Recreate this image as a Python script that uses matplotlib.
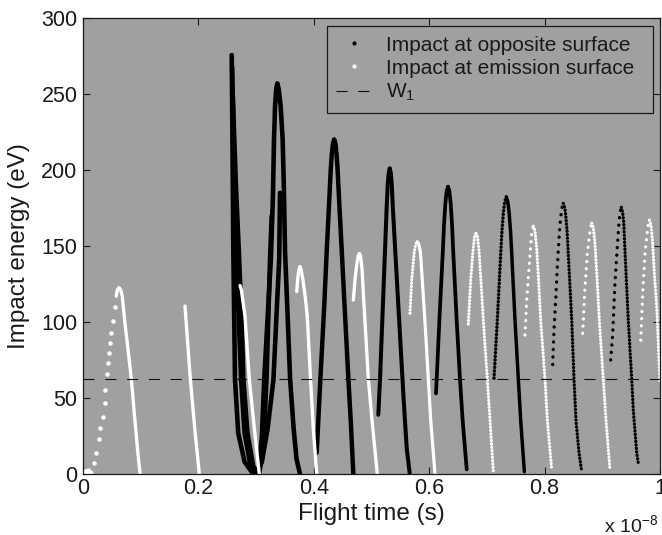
import matplotlib
matplotlib.use('Agg')
import matplotlib.pyplot as plt
from matplotlib.lines import Line2D

plt.rcParams['font.family'] = ['Liberation Sans', 'DejaVu Sans']
plt.rcParams['mathtext.fontset'] = 'custom'
plt.rcParams['mathtext.rm'] = 'Liberation Sans'
plt.rcParams['mathtext.it'] = 'Liberation Sans:italic'

# ---------------- data (x in units of 1e-8 s, y in eV) ----------------
W1_LEVEL = 62.5

# white: impacts at emission surface
w0_x = [0.004, 0.008, 0.012]
w0_y = [1.0, 2.0, 0.5]
w1_sparse_x = [0.0185, 0.0225, 0.0272, 0.0300, 0.0341, 0.0376, 0.0387, 0.0416,
               0.0433, 0.0445, 0.0473, 0.0491, 0.0515, 0.0555]
w1_sparse_y = [7.5, 13.6, 23, 30, 37.7, 46.5, 55, 66, 72.8, 79.4, 86, 92.5, 100.9, 110]
w1_x = [0.0575, 0.0595, 0.0624, 0.0650, 0.0680, 0.0722, 0.078, 0.0838, 0.090, 0.0955, 0.099]
w1_y = [117, 121, 122.5, 121.5, 117, 101, 82, 62.3, 35, 12, 0]
w2_x = [0.1768, 0.1785, 0.186, 0.1936, 0.2016]
w2_y = [110.5, 101, 62.5, 30, 0]
w3_x = [0.2721, 0.2745, 0.2808, 0.2882, 0.2969, 0.3055]
w3_y = [124, 121, 103.5, 62.5, 30, 0]
w4_x = [0.3704, 0.3725, 0.3745, 0.3761, 0.3780, 0.3810, 0.3850, 0.3887, 0.3943, 0.3991, 0.405]
w4_y = [120, 130, 135, 136.4, 134.5, 128, 117, 103.5, 62.5, 30, 0]
w5_x = [0.4685, 0.4715, 0.4745, 0.4770, 0.4789, 0.4810, 0.4835, 0.4865, 0.4945, 0.5003, 0.510]
w5_y = [114.5, 128, 138, 143.5, 145, 143.5, 135, 114.5, 62.5, 37.7, 0]
w6_x = [0.5667, 0.5697, 0.5737, 0.5765, 0.5794, 0.5822, 0.5850, 0.5887, 0.5935, 0.5984,
        0.6026, 0.610]
w6_y = [105.7, 127.6, 145, 151, 152.8, 151, 145, 123.2, 95, 62.5, 35.5, 0]
w7_x = [0.6678, 0.6719, 0.6754, 0.6785, 0.6811, 0.6838, 0.6865, 0.6900, 0.6938, 0.7007,
        0.7054, 0.7111]
w7_y = [98.7, 127.6, 145, 156, 158.3, 156, 146, 125, 101, 62.3, 35.5, 1.5]
w8_x = [0.766, 0.769, 0.7735, 0.7775, 0.7804, 0.7832, 0.786, 0.7895, 0.7932, 0.8007,
        0.8047, 0.8123]
w8_y = [91.4, 114.5, 138.6, 158, 163, 160, 150, 128, 101, 62.3, 35.5, 2.6]
w9_x = [0.866, 0.870, 0.874, 0.8788, 0.8816, 0.8844, 0.8872, 0.891, 0.8948, 0.9017,
        0.9064, 0.9133]
w9_y = [92.5, 123, 145, 160, 165, 162, 152, 128, 101, 62.3, 35.5, 2.6]
w10_x = [0.9666, 0.970, 0.974, 0.9787, 0.9815, 0.9843, 0.987, 0.9905, 0.9943, 1.0]
w10_y = [88, 119, 145, 162, 167, 164, 153, 130, 110, 60]

# black: impacts at opposite surface
c1_x = [0.2577, 0.2590, 0.2605, 0.2634, 0.269, 0.280, 0.295, 0.305, 0.310, 0.314,
        0.3255, 0.3290, 0.3310, 0.3328, 0.3348, 0.3368, 0.3392, 0.3426, 0.3460,
        0.3480, 0.3501, 0.3590, 0.3650, 0.3700, 0.376]
c1_y = [275.6, 220, 147, 62, 27, 8, 0, 3, 25, 62,
        141, 180, 220, 241.6, 253, 257, 253, 241.6, 220,
        190, 147, 62, 30, 10, 0]
c2_x = [0.2585, 0.2620, 0.2660, 0.2700, 0.2740, 0.2800, 0.2890, 0.3000, 0.3100,
        0.3200, 0.3300, 0.3360, 0.3400, 0.3414]
c2_y = [268, 200, 147, 100, 62, 27, 8, 0, 8, 30, 62, 110, 141, 185]
c3_x = [0.2590, 0.2650, 0.2700, 0.2750, 0.2780, 0.2850, 0.2950, 0.3050, 0.3120,
        0.3180, 0.3241, 0.3270]
c3_y = [255, 190, 147, 100, 62, 27, 5, 0, 15, 62, 141, 170]
b3_x = [0.405, 0.4113, 0.4180, 0.4224, 0.4274, 0.4293, 0.4311, 0.4330, 0.4353,
        0.4376, 0.4395, 0.4413, 0.4432, 0.4484, 0.4545, 0.4600, 0.4640, 0.4685]
b3_y = [14, 62, 110, 147, 185, 200, 210, 217, 220, 217, 210, 200, 185, 147, 102, 62, 35, 0]
b4_x = [0.5118, 0.5147, 0.5234, 0.5262, 0.5282, 0.5298, 0.5316, 0.5334, 0.5350,
        0.5370, 0.5425, 0.5500, 0.5560, 0.5610, 0.5663]
b4_y = [39, 62, 147, 175, 191, 198, 201, 198, 191, 175, 137.5, 87, 47, 17, 0]
b5_x = [0.6118, 0.6176, 0.6234, 0.6258, 0.6280, 0.6302, 0.6326, 0.6350, 0.6372,
        0.6394, 0.6418, 0.6476, 0.6534, 0.658, 0.665]
b5_y = [53, 101, 145, 165, 178, 186, 189, 186, 178, 165, 145, 101, 62, 35, 3]
b6_x = [0.7123, 0.718, 0.7239, 0.7261, 0.7285, 0.7308, 0.7335, 0.7362, 0.7385,
        0.7409, 0.743, 0.7487, 0.7545, 0.7586, 0.7649]
b6_y = [63, 101, 145, 160, 172, 179, 182.4, 179, 172, 160, 145, 101, 62, 35, 1.5]
b7_x = [0.814, 0.8163, 0.8198, 0.822, 0.8255, 0.8276, 0.8298, 0.8324, 0.835, 0.8372,
        0.8392, 0.841, 0.847, 0.851, 0.8544, 0.8596, 0.8643]
b7_y = [72, 95, 119, 136, 158, 168, 175, 178, 175, 168, 158, 145, 101, 62, 35, 14, 1.5]
b8_x = [0.9145, 0.918, 0.9203, 0.922, 0.926, 0.9288, 0.9307, 0.9330, 0.9353, 0.9372,
        0.9395, 0.945, 0.951, 0.9537, 0.9596, 0.9624]
b8_y = [75, 92, 112, 126, 149.5, 165, 172, 175.4, 172, 165, 145, 101, 62, 42, 14, 7]

x_ticks = [0, 0.2, 0.4, 0.6, 0.8, 1]
x_tick_labels = ['0', '0.2', '0.4', '0.6', '0.8', '1']
y_ticks = [0, 50, 100, 150, 200, 250, 300]

# ---------------- drawing ----------------
BG = '#a0a0a0'
fig = plt.figure(figsize=(6.62, 5.35), dpi=100)
ax = fig.add_axes([0.1254, 0.114, 0.8716, 0.8524])
ax.set_facecolor(BG)


def draw_arch(xs, ys, color, lw, left_style, right_style):
    i = ys.index(max(ys))
    for seg_x, seg_y, st in ((xs[:i + 1], ys[:i + 1], left_style),
                             (xs[i:], ys[i:], right_style)):
        if st == 'solid':
            ax.plot(seg_x, seg_y, color=color, lw=lw, solid_capstyle='round',
                    solid_joinstyle='round', zorder=3)
        else:
            ax.plot(seg_x, seg_y, color=color, lw=lw, linestyle=st,
                    dash_capstyle='round', zorder=3)


dense_dots = (0, (0.05, 1.0))
sparse_dots = (0, (0.05, 2.2))

# black arches
for xs, ys in ((c1_x, c1_y), (c2_x, c2_y), (c3_x, c3_y)):
    draw_arch(xs, ys, 'black', 3.3, 'solid', 'solid')
draw_arch(b3_x, b3_y, 'black', 3.2, 'solid', 'solid')
draw_arch(b4_x, b4_y, 'black', 2.9, 'solid', 'solid')
draw_arch(b5_x, b5_y, 'black', 2.7, 'solid', 'solid')
draw_arch(b6_x, b6_y, 'black', 2.5, dense_dots, 'solid')
draw_arch(b7_x, b7_y, 'black', 2.4, sparse_dots, dense_dots)
draw_arch(b8_x, b8_y, 'black', 2.4, sparse_dots, dense_dots)

# white arches
ax.scatter(w0_x, w0_y, s=12, color='white', zorder=4, clip_on=False)
ax.scatter(w1_sparse_x, w1_sparse_y, s=5, color='white', zorder=4)
draw_arch(w1_x, w1_y, 'white', 2.4, 'solid', 'solid')
draw_arch(w2_x, w2_y, 'white', 2.4, 'solid', 'solid')
draw_arch(w3_x, w3_y, 'white', 2.4, 'solid', 'solid')
draw_arch(w4_x, w4_y, 'white', 2.4, 'solid', 'solid')
draw_arch(w5_x, w5_y, 'white', 2.4, 'solid', 'solid')
draw_arch(w6_x, w6_y, 'white', 2.3, dense_dots, 'solid')
draw_arch(w7_x, w7_y, 'white', 2.3, dense_dots, dense_dots)
draw_arch(w8_x, w8_y, 'white', 2.3, sparse_dots, dense_dots)
draw_arch(w9_x, w9_y, 'white', 2.3, sparse_dots, dense_dots)
draw_arch(w10_x, w10_y, 'white', 2.3, sparse_dots, dense_dots)

ax.axhline(W1_LEVEL, color='#111111', lw=0.8, dashes=(10, 9.6), zorder=5)

ax.set_xlim(0, 1)
ax.set_ylim(0, 300)
ax.set_xticks(x_ticks)
ax.set_xticklabels(x_tick_labels)
ax.set_yticks(y_ticks)
ax.tick_params(direction='in', length=5, width=0.8, top=True, right=True,
               labelsize=15.5, colors='#1a1a1a')
ax.tick_params(axis='x', pad=3)
ax.tick_params(axis='y', pad=4)
for s in ax.spines.values():
    s.set_linewidth(0.9)
    s.set_color('#1a1a1a')
    s.set_zorder(6)

ax.set_xlabel('Flight time (s)', fontsize=17.5, color='#1a1a1a', labelpad=3)
ax.set_ylabel('Impact energy (eV)', fontsize=17.5, color='#1a1a1a', labelpad=8)
fig.text(0.912, 0.006, 'x 10$^{-8}$', fontsize=14, color='#1a1a1a')

handles = [
    Line2D([], [], color='black', marker='.', markersize=4, linestyle='None'),
    Line2D([], [], color='white', marker='.', markersize=4, linestyle='None'),
    Line2D([], [], color='#111111', lw=0.8, dashes=(10, 9.6)),
]
labels = ['Impact at opposite surface', 'Impact at emission surface', 'W$_1$']
leg = ax.legend(handles, labels, loc='upper left',
                bbox_to_anchor=(0.4229, 0.5, 0.5651, 0.482), mode='expand',
                fontsize=15, frameon=True, fancybox=False, framealpha=1,
                facecolor=BG, edgecolor='#1a1a1a', labelspacing=0.2,
                handlelength=1.7, handletextpad=0.7, borderpad=0.45,
                borderaxespad=0.0)
leg.get_frame().set_linewidth(0.9)
for t in leg.get_texts():
    t.set_color('#1a1a1a')
leg.set_zorder(7)

fig.savefig('out.png', dpi=100, facecolor='white')
